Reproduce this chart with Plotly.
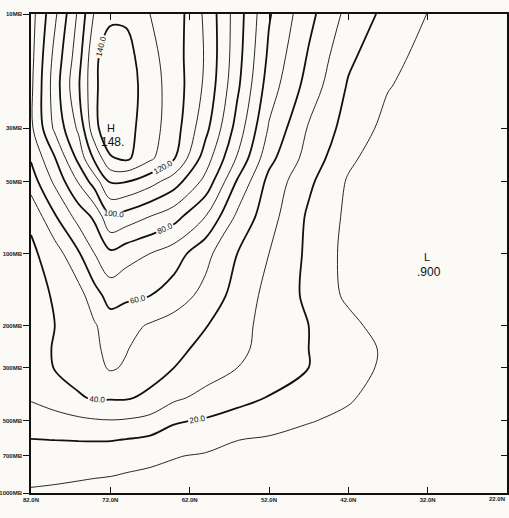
import math
import plotly.graph_objects as go

# Latitude columns (deg N) and pressure levels (mb)
lats = [82, 79, 76, 74, 72, 70, 67, 64, 60, 56, 52, 47, 42, 37, 32, 27, 22]
pressures = [10, 15, 20, 30, 40, 50, 70, 100, 150, 200, 250, 300, 400, 500, 600, 700, 850, 1000]

# Field values along each pressure level, ordered by latitude as above
p10 = [66, 88, 112, 131, 138, 138, 130, 126, 108, 85, 61, 43, 27, 17, 9.8, 7, 5]
p15 = [67, 93, 116, 138, 145, 144, 133, 125, 109, 84, 58, 39, 22, 13, 7, 5, 4]
p20 = [68, 95, 119, 138, 147, 146, 134, 126, 108, 82, 55, 36, 19, 10.5, 6, 4, 3.5]
p30 = [68, 92, 112, 137, 148, 144, 134, 125, 103, 76, 49, 29, 16, 7, 4, 3.5, 3]
p40 = [61, 79.5, 103, 122, 139, 142, 132, 121, 95, 69, 43, 26, 12, 4, 3, 3, 2.5]
p50 = [55, 72, 91, 105, 121, 120.5, 114, 105, 87, 59, 37, 22, 9, 4, 2.5, 2.5, 2.5]
p70 = [42, 59, 74, 82, 99, 96, 90, 84, 70, 48, 34, 18.4, 8, 3, 1.5, 2, 2]
p100 = [38, 45, 59, 70, 78, 74, 70, 65, 53, 40, 30, 18, 7, 2.5, 0.9, 1.5, 2]
p150 = [36, 41, 46, 56, 64, 62, 60, 55, 47, 36, 27, 18, 8, 3, 1.5, 2, 2]
p200 = [35, 40, 45, 49, 55, 53, 49, 46, 40.5, 33, 27, 20, 13, 5, 3, 3, 2.5]
p250 = [34, 41, 45, 48, 53, 50.5, 46, 43, 37, 32, 27, 20, 14, 8.5, 4, 3, 3]
p300 = [33, 40.5, 44, 47, 51, 49, 44, 40, 35, 30, 27, 20, 14, 8, 4, 3, 3]
p400 = [31, 35, 39, 41, 41, 41, 38, 32, 27, 23, 19.5, 15, 11, 6, 4, 3.5, 3]
p500 = [25, 26, 28, 29, 29.5, 29, 27, 21, 19, 16.2, 13.7, 10.5, 8, 5, 3.5, 3, 3]
p600 = [19.7, 20.1, 20.4, 20.5, 20.5, 19.6, 18, 16, 14, 10.1, 9, 7, 5, 4, 3.5, 3, 3]
p700 = [15, 15, 15, 15, 14.5, 13.5, 12, 10.5, 9, 8, 7, 5.5, 4.5, 3.5, 3, 3, 3]
p850 = [12, 11.5, 10.8, 10.4, 10.1, 9.3, 8.5, 7.5, 6.5, 6, 5.5, 4.5, 4, 3.5, 3, 3, 3]
p1000 = [9, 8.5, 8, 7.5, 7, 6.5, 6, 5.5, 5, 4.5, 4, 3.5, 3.5, 3, 3, 3, 3]

field = [p10, p15, p20, p30, p40, p50, p70, p100, p150, p200, p250,
         p300, p400, p500, p600, p700, p850, p1000]

# Axis tick labels
lat_ticks = [82, 72, 62, 52, 42, 32, 22]
lat_labels = ["82.0N", "72.0N", "62.0N", "52.0N", "42.0N", "32.0N", "22.0N"]
p_ticks = [10, 30, 50, 100, 200, 300, 500, 700, 1000]
p_labels = ["10MB", "30MB", "50MB", "100MB", "200MB", "300MB", "500MB", "700MB", "1000MB"]

# Extremes marked on the chart
high_val, high_lat, high_p = 148.0, 71.9, 29.9
low_val, low_lat, low_p = 0.900, 32.1, 103.0

BG = "#fbfaf6"
INK = "#111111"

fig = go.Figure()

# Odd tens: thin, unlabelled
fig.add_trace(go.Contour(
    x=lats, y=pressures, z=field,
    contours=dict(start=10, end=130, size=20, coloring="none", showlabels=False),
    line=dict(color=INK, width=0.9, smoothing=1.0),
    showscale=False, hoverinfo="skip",
))
# Multiples of twenty: heavy, labelled
fig.add_trace(go.Contour(
    x=lats, y=pressures, z=field,
    contours=dict(start=20, end=140, size=20, coloring="none", showlabels=True,
                  labelfont=dict(size=8, color=INK, family="Liberation Sans"),
                  labelformat=".1f"),
    line=dict(color=INK, width=1.8, smoothing=1.0),
    showscale=False, hoverinfo="skip",
))
# Invisible carrier so the right-hand tick axis is drawn
fig.add_trace(go.Scatter(x=[lats[-1]], y=[pressures[-1]], yaxis="y2", mode="markers",
                         marker=dict(opacity=0), showlegend=False, hoverinfo="skip"))

tickfont = dict(size=6, color="#1a1a1a", family="Liberation Sans", weight="bold")

# The last latitude label sits against the right edge, so it is placed
# separately, right-aligned to its tick.
axis_labels = lat_labels[:-1] + [""]

fig.update_layout(
    width=509, height=518,
    margin=dict(l=31, r=2, t=14, b=25),
    paper_bgcolor=BG, plot_bgcolor=BG,
    showlegend=False,
    xaxis=dict(range=[82, 22], tickvals=lat_ticks, ticktext=axis_labels,
               ticks="inside", ticklen=6, tickwidth=1.2, tickcolor=INK,
               showline=True, linecolor=INK, linewidth=1.6, mirror="ticks",
               showgrid=False, zeroline=False, tickfont=tickfont,
               ticklabeloverflow="allow", automargin=False),
    yaxis=dict(type="log", range=[3, 1], tickvals=p_ticks, ticktext=p_labels,
               ticks="outside", ticklen=6, tickwidth=1.2, tickcolor=INK,
               showline=True, linecolor=INK, linewidth=1.6, mirror=True,
               showgrid=False, zeroline=False, tickfont=tickfont,
               ticklabeloverflow="allow", automargin=False),
    yaxis2=dict(type="log", range=[3, 1], overlaying="y", side="right", anchor="x",
                tickvals=p_ticks, ticks="inside", ticklen=6, tickwidth=1.2,
                tickcolor=INK, showticklabels=False, showline=False,
                showgrid=False, zeroline=False, automargin=False),
)

fig.add_annotation(x=lat_ticks[-1], xref="x", y=0, yref="paper", text=lat_labels[-1],
                   xanchor="right", yanchor="top", yshift=-1, showarrow=False,
                   font=tickfont)

mark_font = dict(size=11, color=INK, family="Liberation Sans")
fig.add_annotation(x=high_lat, y=math.log10(high_p), text="H", showarrow=False, font=mark_font)
fig.add_annotation(x=high_lat - 0.2, y=math.log10(high_p) + 0.058, text=f"{high_val:.0f}.",
                   showarrow=False, font=dict(size=12, color=INK, family="Liberation Sans"))
fig.add_annotation(x=low_lat, y=math.log10(low_p), text="L", showarrow=False, font=mark_font)
fig.add_annotation(x=low_lat - 0.3, y=math.log10(low_p) + 0.064, text=f"{low_val:.3f}"[1:],
                   showarrow=False, font=dict(size=12, color=INK, family="Liberation Sans"))

fig.write_html("out.html")
